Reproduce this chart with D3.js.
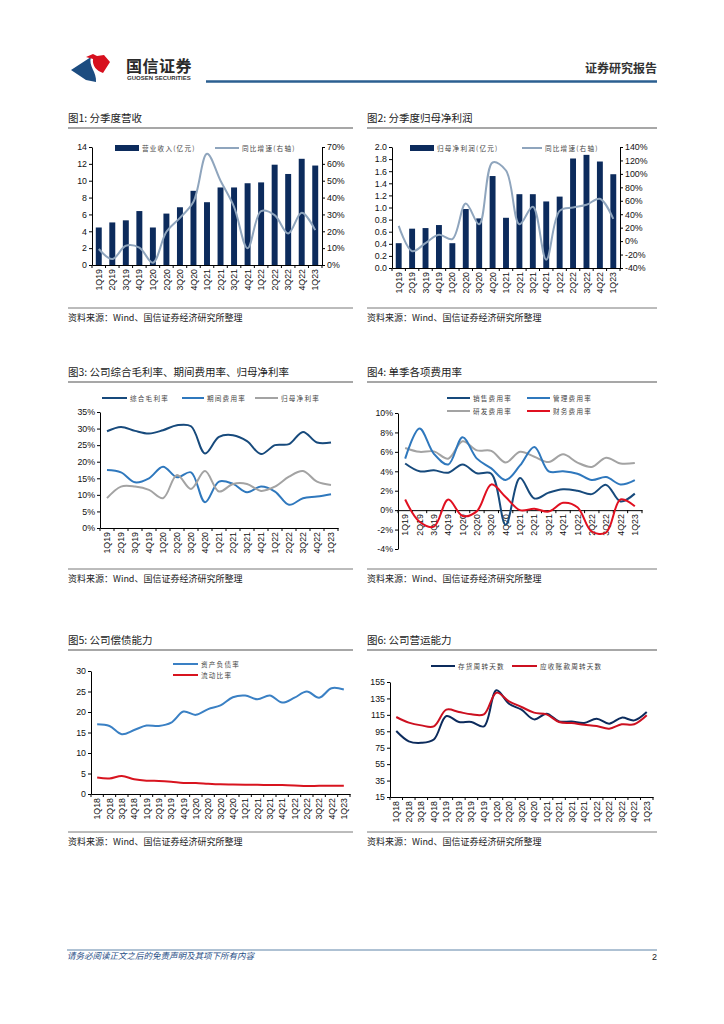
<!DOCTYPE html>
<html>
<head>
<meta charset="utf-8">
<script src="https://cdn.jsdelivr.net/npm/d3@7"></script>
<style>
  body { margin: 0; background: #fff; }
  text { font-family: "Liberation Sans", Arial, sans-serif; }
  .cjk { font-family: "Noto Sans CJK SC", "Noto Sans", sans-serif; }
</style>
</head>
<body>
<script>

// ---- data ----
var quarters19 = ["1Q19","2Q19","3Q19","4Q19","1Q20","2Q20","3Q20","4Q20","1Q21","2Q21","3Q21","4Q21","1Q22","2Q22","3Q22","4Q22","1Q23"];
var quarters18 = ["1Q18","2Q18","3Q18","4Q18"].concat(quarters19);

// fig 1
var revenue     = [4.45, 5.05, 5.3, 6.4, 4.45, 6.1, 6.85, 8.8, 7.45, 9.2, 9.2, 9.7, 9.8, 11.9, 10.8, 12.6, 11.8];
var revenueYoy  = [0.095, 0.035, 0.114, 0.103, 0.014, 0.197, 0.28, 0.375, 0.66, 0.5, 0.345, 0.10, 0.32, 0.296, 0.187, 0.31, 0.207];
// fig 2
var netProfit    = [0.41, 0.65, 0.66, 0.71, 0.41, 0.975, 0.82, 1.52, 0.83, 1.22, 1.22, 1.10, 1.18, 1.81, 1.87, 1.76, 1.55];
var netProfitYoy = [0.227, -0.15, -0.03, 0.094, 0.03, 0.56, 0.25, 1.17, 1.05, 0.25, 0.51, -0.276, 0.45, 0.50, 0.54, 0.63, 0.33];
// fig 3
var grossMargin   = [29.2, 30.5, 29.3, 28.5, 29.5, 31.0, 30.7, 22.5, 27.5, 28.0, 26.2, 22.3, 25.0, 25.3, 29.0, 25.8, 25.8];
var periodExpense = [17.5, 16.8, 13.8, 15.0, 18.5, 15.3, 16.8, 7.8, 14.0, 13.3, 10.8, 12.5, 11.0, 7.0, 9.0, 9.5, 10.2];
var netMargin     = [9.0, 12.5, 12.5, 11.5, 9.0, 16.0, 11.8, 17.2, 11.0, 13.3, 13.3, 11.2, 12.5, 15.5, 17.2, 14.0, 13.0];
// fig 4
var sellingExp = [4.8, 4.0, 4.1, 3.85, 4.7, 3.8, 3.75, -1.5, 3.3, 1.2, 1.8, 2.15, 2.0, 1.65, 2.6, 0.9, 1.7];
var adminExp   = [5.3, 8.4, 5.8, 4.7, 7.5, 5.3, 4.3, 3.1, 4.6, 6.5, 4.0, 4.0, 3.75, 3.1, 3.4, 2.65, 3.1];
var rdExp      = [6.4, 6.0, 6.05, 5.3, 7.1, 6.15, 6.1, 4.9, 6.0, 5.5, 4.95, 5.75, 4.9, 4.45, 5.4, 4.8, 4.85];
var financeExp = [1.1, -1.2, -1.7, 1.1, -0.6, -0.1, 2.65, 1.35, 0.0, 0.15, -0.15, 0.75, 0.3, -2.2, -2.3, 1.1, 0.4];
// fig 5
var debtRatio    = [17.0, 16.6, 14.6, 15.6, 16.7, 16.6, 17.4, 20.1, 19.3, 20.7, 21.6, 23.6, 24.0, 23.1, 24.0, 22.3, 23.5, 25.0, 23.5, 25.8, 25.5];
var currentRatio = [4.0, 3.8, 4.4, 3.6, 3.25, 3.2, 3.0, 2.7, 2.7, 2.5, 2.35, 2.3, 2.25, 2.25, 2.2, 2.2, 2.1, 1.95, 2.0, 2.0, 2.0];
// fig 6
var inventoryDays  = [95.3, 82.8, 81.0, 85.0, 113.6, 106.3, 106.3, 101.0, 144.9, 128.6, 121.3, 109.5, 116.4, 107.0, 107.0, 105.0, 110.4, 104.3, 111.6, 108.3, 118.5];
var receivableDays = [112.4, 105.5, 102.2, 101.0, 121.3, 118.5, 115.6, 115.6, 142.0, 131.5, 124.6, 117.7, 115.6, 106.3, 105.0, 103.0, 101.4, 98.2, 103.5, 103.5, 114.4];

// tick labels
var ticksRev    = [0, 2, 4, 6, 8, 10, 12, 14];
var ticksRevYoy = [0, 0.1, 0.2, 0.3, 0.4, 0.5, 0.6, 0.7];
var ticksNp     = [0, 0.2, 0.4, 0.6, 0.8, 1.0, 1.2, 1.4, 1.6, 1.8, 2.0];
var ticksNpYoy  = [-0.4, -0.2, 0, 0.2, 0.4, 0.6, 0.8, 1.0, 1.2, 1.4];
var ticksMargin = [0, 5, 10, 15, 20, 25, 30, 35];
var ticksExp    = [-4, -2, 0, 2, 4, 6, 8, 10];
var ticksDebt   = [0, 5, 10, 15, 20, 25, 30];
var ticksDays   = [15, 35, 55, 75, 95, 115, 135, 155];

var navy = "#0c2b5c", midBlue = "#2f78bd", gray = "#a3a3a3", red = "#e01020";

var svg = d3.select("body").append("svg").attr("width", 724).attr("height", 1024);

// ---- header ----
svg.append("path").attr("d", "M71,70 L91,57 C88,66 97,72 96,82 L86,80 Z").attr("fill", "#1c4c80");
svg.append("path").attr("d", "M86,57 L93,54 L97,56 L104,55 L110,62 L103,73 C97,71 92,66 93,59 Z").attr("fill", "#d7101e");
svg.append("text").attr("class", "cjk").attr("x", 126).attr("y", 72).attr("font-size", 16).attr("font-weight", "bold").attr("fill", "#2a2a2a").attr("letter-spacing", 0.5).text("国信证券");
svg.append("text").attr("x", 127).attr("y", 80).attr("font-size", 6).attr("font-weight", "bold").attr("fill", "#333").text("GUOSEN SECURITIES");
svg.append("text").attr("class", "cjk").attr("x", 657).attr("y", 73).attr("text-anchor", "end").attr("font-size", 12).attr("font-weight", "bold").attr("fill", "#333").text("证券研究报告");
svg.append("line").attr("x1", 206).attr("x2", 657).attr("y1", 81.5).attr("y2", 81.5).attr("stroke", "#2b5f91").attr("stroke-width", 2.5);

// ---- footer ----
svg.append("line").attr("x1", 67).attr("x2", 657).attr("y1", 950).attr("y2", 950).attr("stroke", "#5f84a8").attr("stroke-width", 1);
svg.append("text").attr("class", "cjk").attr("x", 67).attr("y", 959).attr("font-size", 8.5).attr("font-style", "italic").attr("fill", "#1f4e86").text("请务必阅读正文之后的免责声明及其项下所有内容");
svg.append("text").attr("x", 657).attr("y", 960).attr("text-anchor", "end").attr("font-size", 9).attr("fill", "#222").text("2");

function frame(x0, x1, titleY, sourceY, title) {
  svg.append("text").attr("class", "cjk").attr("x", x0).attr("y", titleY).attr("font-size", 10.5).attr("fill", "#222").text(title);
  svg.append("line").attr("x1", x0).attr("x2", x1).attr("y1", titleY + 6).attr("y2", titleY + 6).attr("stroke", "#8a8a8a").attr("stroke-width", 1.5);
  svg.append("line").attr("x1", x0).attr("x2", x1).attr("y1", sourceY - 10).attr("y2", sourceY - 10).attr("stroke", "#555").attr("stroke-width", 0.8);
  svg.append("text").attr("class", "cjk").attr("x", x0).attr("y", sourceY + 3).attr("font-size", 9).attr("fill", "#222").text("资料来源：Wind、国信证券经济研究所整理");
}

function pct(d) { return Math.round(d * 100) + "%"; }

function panel(o) {
  var g = svg.append("g");
  var x = d3.scaleBand().domain(o.cats).range([o.left, o.right]);
  var y = d3.scaleLinear().domain(o.yDomain).range([o.bottom, o.top]);
  var y2 = o.y2Domain ? d3.scaleLinear().domain(o.y2Domain).range([o.bottom, o.top]) : null;
  var cx = function(i) { return x(o.cats[i]) + x.bandwidth() / 2; };

  if (o.bars) {
    g.selectAll("rect.bar").data(o.bars).enter().append("rect")
      .attr("x", function(d, i) { return x(o.cats[i]) + x.bandwidth() * 0.28; })
      .attr("width", x.bandwidth() * 0.44)
      .attr("y", function(d) { return y(d); })
      .attr("height", function(d) { return y(0) - y(d); })
      .attr("fill", o.barColor);
  }

  var la = g.append("g").attr("transform", "translate(" + o.left + ",0)")
    .call(d3.axisLeft(y).tickValues(o.yTicks).tickFormat(o.yFmt).tickSize(3).tickSizeOuter(0));
  la.selectAll("text").attr("font-size", 8.8).attr("fill", "#111").attr("x", -5);
  if (y2) {
    var ra = g.append("g").attr("transform", "translate(" + o.right + ",0)")
      .call(d3.axisRight(y2).tickValues(o.y2Ticks).tickFormat(pct).tickSize(3).tickSizeOuter(0));
    ra.selectAll("text").attr("font-size", 8.8).attr("fill", "#111").attr("x", 5);
  }

  var axisY = y(o.xAt || 0);
  var xa = g.append("g").attr("transform", "translate(0," + axisY + ")")
    .call(d3.axisBottom(x).tickSize(0).tickSizeOuter(0));
  xa.selectAll("text").attr("font-size", 8.8).attr("fill", "#111")
    .attr("transform", "rotate(-90)").attr("text-anchor", "end")
    .attr("x", -4).attr("y", 0).attr("dy", "0.35em");
  g.selectAll("line.xt").data(o.cats.concat([null])).enter().append("line")
    .attr("x1", function(d) { return d === null ? o.right : x(d); })
    .attr("x2", function(d) { return d === null ? o.right : x(d); })
    .attr("y1", axisY).attr("y2", axisY + 3).attr("stroke", "#000");
  g.selectAll(".domain, .tick line").attr("stroke", "#000");

  o.lines.forEach(function(s) {
    var sc = s.right ? y2 : y;
    g.append("path").datum(s.values)
      .attr("d", d3.line().x(function(d, i) { return cx(i); }).y(function(d) { return sc(d); }).curve(d3.curveCatmullRom.alpha(0.5)))
      .attr("fill", "none").attr("stroke", s.color).attr("stroke-width", s.width || 2);
  });

  o.legend.forEach(function(l) {
    if (l.bar) {
      g.append("rect").attr("x", l.x).attr("y", l.y - 3).attr("width", l.w).attr("height", 6).attr("fill", l.color);
    } else {
      g.append("line").attr("x1", l.x).attr("x2", l.x + l.w).attr("y1", l.y).attr("y2", l.y).attr("stroke", l.color).attr("stroke-width", 2);
    }
    g.append("text").attr("class", "cjk").attr("x", l.x + l.w + 3).attr("y", l.y + 2.5)
      .attr("font-size", 6.6).attr("letter-spacing", 1.2).attr("fill", "#444").text(l.label);
  });
}

// ---- fig 1 ----
frame(68, 353, 122, 318, "图1: 分季度营收");
panel({
  cats: quarters19, left: 92, right: 322, top: 147, bottom: 265,
  yDomain: [0, 14], yTicks: ticksRev, yFmt: d3.format("d"),
  y2Domain: [0, 0.7], y2Ticks: ticksRevYoy,
  bars: revenue, barColor: navy,
  lines: [{ values: revenueYoy, color: "#8fa5bd", right: true }],
  legend: [
    { bar: true, x: 115, y: 148, w: 24, color: navy, label: "营业收入(亿元)" },
    { x: 215, y: 148, w: 24, color: "#8fa5bd", label: "同比增速(右轴)" }
  ]
});

// ---- fig 2 ----
frame(367, 657, 122, 318, "图2: 分季度归母净利润");
panel({
  cats: quarters19, left: 392, right: 620, top: 147, bottom: 268,
  yDomain: [0, 2], yTicks: ticksNp, yFmt: d3.format(".1f"),
  y2Domain: [-0.4, 1.4], y2Ticks: ticksNpYoy,
  bars: netProfit, barColor: navy,
  lines: [{ values: netProfitYoy, color: "#8fa5bd", right: true }],
  legend: [
    { bar: true, x: 410, y: 148, w: 24, color: navy, label: "归母净利润(亿元)" },
    { x: 522, y: 148, w: 20, color: "#8fa5bd", label: "同比增速(右轴)" }
  ]
});

// ---- fig 3 ----
frame(68, 353, 376, 579, "图3: 公司综合毛利率、期间费用率、归母净利率");
panel({
  cats: quarters19, left: 100, right: 338, top: 412, bottom: 528,
  yDomain: [0, 35], yTicks: ticksMargin, yFmt: function(d) { return d + "%"; },
  lines: [
    { values: grossMargin, color: "#174a7c" },
    { values: periodExpense, color: midBlue },
    { values: netMargin, color: gray }
  ],
  legend: [
    { x: 102, y: 398, w: 25, color: "#174a7c", label: "综合毛利率" },
    { x: 182, y: 398, w: 22, color: midBlue, label: "期间费用率" },
    { x: 255, y: 398, w: 23, color: gray, label: "归母净利率" }
  ]
});

// ---- fig 4 ----
frame(367, 657, 376, 579, "图4: 单季各项费用率");
panel({
  cats: quarters19, left: 398, right: 642, top: 413, bottom: 549,
  yDomain: [-4, 10], yTicks: ticksExp, yFmt: function(d) { return d + "%"; }, xAt: 0,
  lines: [
    { values: rdExp, color: gray },
    { values: adminExp, color: midBlue },
    { values: sellingExp, color: "#174a7c" },
    { values: financeExp, color: red }
  ],
  legend: [
    { x: 447, y: 398, w: 23, color: "#174a7c", label: "销售费用率" },
    { x: 527, y: 398, w: 23, color: midBlue, label: "管理费用率" },
    { x: 447, y: 411, w: 23, color: gray, label: "研发费用率" },
    { x: 527, y: 411, w: 23, color: red, label: "财务费用率" }
  ]
});

// ---- fig 5 ----
frame(68, 353, 644, 842, "图5: 公司偿债能力");
panel({
  cats: quarters18, left: 91, right: 350, top: 671, bottom: 794,
  yDomain: [0, 30], yTicks: ticksDebt, yFmt: d3.format("d"),
  lines: [
    { values: debtRatio, color: "#3a80c4" },
    { values: currentRatio, color: "#d8141f" }
  ],
  legend: [
    { x: 173, y: 664, w: 25, color: "#3a80c4", label: "资产负债率" },
    { x: 173, y: 675, w: 25, color: "#d8141f", label: "流动比率" }
  ]
});

// ---- fig 6 ----
frame(367, 657, 644, 842, "图6: 公司营运能力");
panel({
  cats: quarters18, left: 390, right: 653, top: 682, bottom: 797,
  yDomain: [15, 155], yTicks: ticksDays, yFmt: d3.format("d"), xAt: 15,
  lines: [
    { values: inventoryDays, color: navy },
    { values: receivableDays, color: "#cc1020" }
  ],
  legend: [
    { x: 431, y: 666, w: 24, color: navy, label: "存货周转天数" },
    { x: 512, y: 666, w: 25, color: "#cc1020", label: "应收账款周转天数" }
  ]
});

</script>
</body>
</html>
